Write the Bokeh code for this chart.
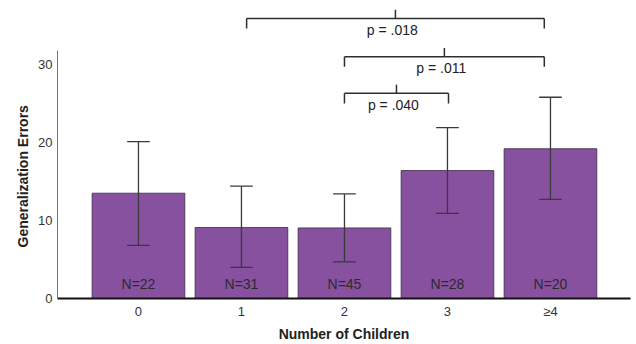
from bokeh.plotting import figure
from bokeh.models import Range1d, FixedTicker, ColumnDataSource, Title
from bokeh.embed import file_html
from bokeh.resources import INLINE
from bokeh.core.properties import value

# ---- data ----
categories = ["0", "1", "2", "3", "≥4"]
means = [13.5, 9.1, 9.05, 16.4, 19.2]
err_low = [6.8, 4.0, 4.7, 10.9, 12.7]
err_high = [20.1, 14.4, 13.4, 21.9, 25.8]
n_labels = ["N=22", "N=31", "N=45", "N=28", "N=20"]
y_ticks = [0, 10, 20, 30]

bracket_left = [1.05, 2.0, 2.0]
bracket_right = [3.94, 3.94, 3.01]
bracket_level = [35.9, 31.0, 26.3]
p_labels = ["p = .018", "p = .011", "p = .040"]

FONT = "Liberation Sans"
xs = list(range(len(categories)))

p = figure(width=636, height=344, output_backend="svg", toolbar_location=None,
           x_range=Range1d(-0.786, 4.777), y_range=Range1d(0, 38.2),
           min_border_left=57, min_border_right=6, min_border_top=0, min_border_bottom=46)
p.outline_line_color = None
p.xgrid.grid_line_color = None
p.ygrid.grid_line_color = None

# bars
src = ColumnDataSource(dict(x=xs, top=means, low=err_low, high=err_high, n=n_labels,
                            ny=[1.86] * len(xs)))
p.vbar(x="x", top="top", bottom=0, width=0.9, source=src,
       fill_color="#87519f", line_color="#3d2a48", line_width=1, line_alpha=0.8)

# N labels
p.text(x="x", y="ny", text="n", source=src, text_font=value(FONT), text_font_size="14px",
       text_align="center", text_baseline="middle", text_color="#2b2b2b")

# error bars
cap = 0.11
p.segment(x0=xs, y0=err_low, x1=xs, y1=err_high, line_color="#3a3a3a", line_width=1.3)
p.segment(x0=[x - cap for x in xs], y0=err_high, x1=[x + cap for x in xs], y1=err_high,
          line_color="#3a3a3a", line_width=1.3)
p.segment(x0=[x - cap for x in xs], y0=err_low, x1=[x + cap for x in xs], y1=err_low,
          line_color="#3a3a3a", line_width=1.3)

# significance brackets
end_drop = 1.3
tip_rise = 1.1
mids = [(l + r) / 2 for l, r in zip(bracket_left, bracket_right)]
bx0 = bracket_left + bracket_left + bracket_right + mids
by0 = bracket_level * 4
bx1 = bracket_right + bracket_left + bracket_right + mids
by1 = bracket_level + [y - end_drop for y in bracket_level] * 2 + [y + tip_rise for y in bracket_level]
p.segment(x0=bx0, y0=by0, x1=bx1, y1=by1, line_color="#2e2e2e", line_width=1.5)
p.text(x=[m - 0.03 for m in mids], y=[y - 1.5 for y in bracket_level], text=p_labels,
       text_font=value(FONT), text_font_size="14px", text_align="center",
       text_baseline="middle", text_color="#222222")

# x axis
xa = p.xaxis[0]
xa.ticker = FixedTicker(ticks=xs)
xa.major_label_overrides = {i: c for i, c in zip(xs, categories)}
xa.axis_line_color = "#111111"
xa.axis_line_width = 2
xa.major_tick_line_color = None
xa.minor_tick_line_color = None
xa.major_tick_out = 0
xa.major_tick_in = 0
xa.major_label_standoff = 5
xa.major_label_text_font = FONT
xa.major_label_text_font_size = "13px"
xa.major_label_text_color = "#333333"
xa.axis_label = "Number of Children"
xa.axis_label_text_font = FONT
xa.axis_label_text_font_style = "bold"
xa.axis_label_text_font_size = "14px"
xa.axis_label_text_color = "#222222"
xa.axis_label_standoff = 4

# y axis
ya = p.yaxis[0]
ya.ticker = FixedTicker(ticks=y_ticks)
ya.bounds = (0, 31.8)
ya.axis_line_color = "#777777"
ya.axis_line_width = 1
ya.major_tick_line_color = None
ya.minor_tick_line_color = None
ya.major_tick_out = 0
ya.major_tick_in = 0
ya.major_label_standoff = 5
ya.major_label_text_font = FONT
ya.major_label_text_font_size = "13px"
ya.major_label_text_color = "#333333"

# y axis title, placed so it is centred on the drawn axis line
p.add_layout(Title(text="Generalization Errors", align="left", offset=51,
                   text_font=FONT, text_font_style="bold", text_font_size="14px",
                   text_color="#222222", standoff=10), "left")

open("out.html", "w").write(file_html(p, INLINE))
